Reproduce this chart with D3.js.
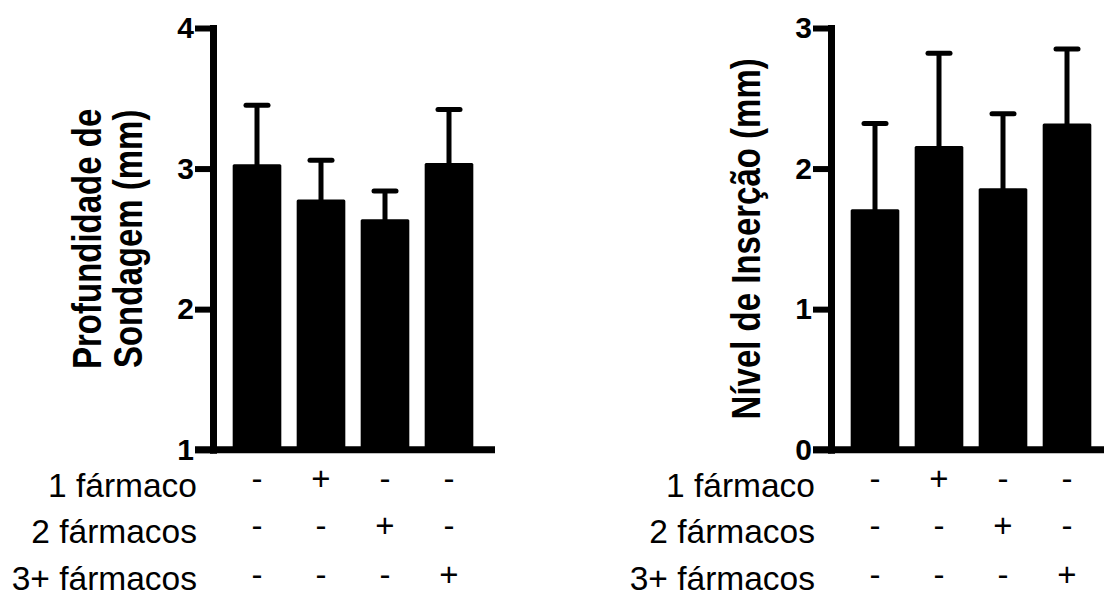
<!DOCTYPE html>
<html>
<head>
<meta charset="utf-8">
<script src="https://cdn.jsdelivr.net/npm/d3@7"></script>
<style>
  html, body { margin: 0; padding: 0; background: #fff; }
  svg { display: block; }
</style>
</head>
<body>
<svg id="chart" width="1104" height="598"></svg>
<script>
// groups (one bar per treatment group)
const groups = ['nenhum', '1', '2', '3+']
const rowLabels = ['1 fármaco', '2 fármacos', '3+ fármacos']
// +/- table, one row per label, one column per group
const signs = [
  ['-', '+', '-', '-'],
  ['-', '-', '+', '-'],
  ['-', '-', '-', '+']
]

// left panel: probing depth
const depthMean = [3.03, 2.78, 2.64, 3.04]
const depthErr = [0.42, 0.28, 0.20, 0.38]
const depthTicks = [1, 2, 3, 4]
const depthLabel = ['Profundidade de', 'Sondagem (mm)']

// right panel: attachment level
const insertMean = [1.71, 2.16, 1.86, 2.32]
const insertErr = [0.61, 0.66, 0.53, 0.53]
const insertTicks = [0, 1, 2, 3]
const insertLabel = ['Nível de Inserção (mm)']

const svg = d3.select('#chart')
const font = "'Liberation Sans', Arial, sans-serif"

const layout = {
  top: 28,
  bottom: 449.7,
  axisWidth: 7,
  tickLen: 18,
  xAxisLen: 282,
  barOffset: 12,
  rowBaselines: [497, 543, 590],
  signBaselines: [490, 537, 586]
}

function drawPanel(axisX, means, errs, ticks, labelLines) {
  const g = svg.append('g')

  const y = d3.scaleLinear()
    .domain([ticks[0], ticks[ticks.length - 1]])
    .range([layout.bottom, layout.top])

  const x = d3.scaleBand()
    .domain(groups)
    .range([axisX + layout.barOffset, axisX + layout.barOffset + 256])
    .paddingInner(0.24)
    .paddingOuter(0.12)

  // bars
  g.selectAll('rect.bar')
    .data(means)
    .join('rect')
    .attr('class', 'bar')
    .attr('x', (d, i) => x(groups[i]))
    .attr('y', d => y(d))
    .attr('width', x.bandwidth())
    .attr('height', d => y(ticks[0]) - y(d))
    .attr('rx', 1.5)
    .style('fill', '#000')

  // error bars (upper only)
  const cx = i => x(groups[i]) + x.bandwidth() / 2
  g.selectAll('line.stem')
    .data(means)
    .join('line')
    .attr('x1', (d, i) => cx(i))
    .attr('x2', (d, i) => cx(i))
    .attr('y1', d => y(d) + 2)
    .attr('y2', (d, i) => y(d + errs[i]))
    .style('stroke', '#000')
    .style('stroke-width', 5)

  g.selectAll('line.cap')
    .data(means)
    .join('line')
    .attr('x1', (d, i) => cx(i) - 11)
    .attr('x2', (d, i) => cx(i) + 11)
    .attr('y1', (d, i) => y(d + errs[i]))
    .attr('y2', (d, i) => y(d + errs[i]))
    .style('stroke', '#000')
    .style('stroke-width', 5)
    .style('stroke-linecap', 'round')

  // y axis
  const yAxis = g.append('g')
    .attr('transform', `translate(${axisX},0)`)
    .call(d3.axisLeft(y).tickValues(ticks).tickFormat(d3.format('d'))
      .tickSize(layout.tickLen).tickSizeOuter(0).tickPadding(1))
  yAxis.select('.domain')
    .style('stroke-width', layout.axisWidth)
    .style('stroke-linecap', 'square')
  yAxis.selectAll('.tick line')
    .style('stroke-width', 6)
  yAxis.selectAll('.tick text')
    .style('font-family', font)
    .style('font-weight', 'bold')
    .style('font-size', '30px')
    .style('fill', '#000')

  // x axis line
  g.append('line')
    .attr('x1', axisX - layout.tickLen)
    .attr('x2', axisX + layout.xAxisLen)
    .attr('y1', y(ticks[0]))
    .attr('y2', y(ticks[0]))
    .style('stroke', '#000')
    .style('stroke-width', layout.axisWidth)

  // y axis title
  const midY = (layout.top + layout.bottom) / 2
  labelLines.forEach((line, k) => {
    const bx = axisX - 71 - (labelLines.length - 1 - k) * 41
    g.append('text')
      .text(line)
      .attr('transform', `translate(${bx},${midY}) rotate(-90) scale(1,1.25)`)
      .attr('text-anchor', 'middle')
      .style('font-family', font)
      .style('font-weight', 'bold')
      .style('font-size', '33px')
  })

  // +/- table
  rowLabels.forEach((label, r) => {
    g.append('text')
      .text(label)
      .attr('x', axisX - 16)
      .attr('y', layout.rowBaselines[r])
      .attr('text-anchor', 'end')
      .style('font-family', font)
      .style('font-size', '33.5px')

    g.selectAll(null)
      .data(signs[r])
      .join('text')
      .text(d => d)
      .attr('x', (d, i) => cx(i))
      .attr('y', layout.signBaselines[r])
      .attr('text-anchor', 'middle')
      .style('font-family', font)
      .style('font-size', '33px')
  })
}

drawPanel(213, depthMean, depthErr, depthTicks, depthLabel)
drawPanel(831, insertMean, insertErr, insertTicks, insertLabel)
</script>
</body>
</html>
